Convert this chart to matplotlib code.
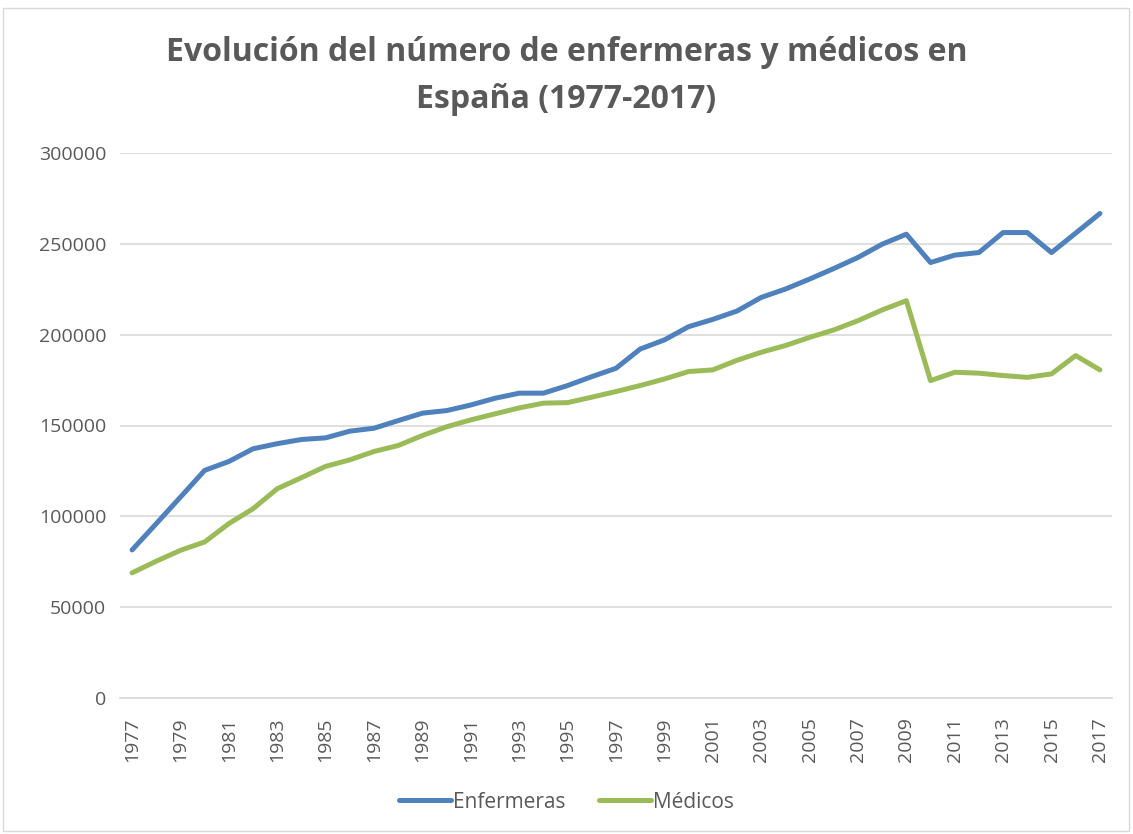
import numpy as np
import matplotlib.pyplot as plt
from matplotlib.patches import Rectangle

# Datos
anios = list(range(1977, 2018))
enfermeras = [81500, 96000, 110600, 125300, 130200, 137200, 140000, 142300, 143200, 146900,
              148500, 152700, 156800, 158200, 161300, 165000, 167800, 167800, 172000, 176900,
              181500, 192100, 197100, 204400, 208400, 213000, 220500, 225100, 230600, 236400,
              242500, 249800, 255300, 239700, 243800, 245200, 256200, 256200, 245200, 255900,
              266700]
medicos = [68900, 75300, 81300, 85900, 96000, 104200, 115200, 121300, 127500, 131100,
           135700, 139000, 144500, 149300, 153100, 156400, 159700, 162300, 162600, 165600,
           168700, 172000, 175600, 179700, 180600, 185900, 190300, 194000, 198500, 202600,
           207700, 213600, 218700, 174700, 179300, 178800, 177500, 176500, 178400, 188500,
           180600]
yticks = [0, 50000, 100000, 150000, 200000, 250000, 300000]

plt.rcParams['font.family'] = ['Open Sans', 'DejaVu Sans']
gris = '#595959'

fig = plt.figure(figsize=(11.33, 8.34), dpi=100)
ax = fig.add_axes([120 / 1133, 1 - 698 / 834, 992 / 1133, 545 / 834])

x = np.arange(len(anios))
ax.plot(x, enfermeras, color='#4f81bd', linewidth=3.6, solid_capstyle='round',
        solid_joinstyle='round', label='Enfermeras')
ax.plot(x, medicos, color='#9bbb59', linewidth=3.6, solid_capstyle='round',
        solid_joinstyle='round', label='Médicos')

ax.set_xlim(-0.5, len(anios) - 0.5)
ax.set_ylim(0, 300000)
ax.set_yticks(yticks)
ax.set_yticklabels([str(v) for v in yticks], fontsize=14, color=gris)
ax.set_xticks(x[::2])
ax.set_xticklabels([str(a) for a in anios[::2]], rotation=90, fontsize=14, color=gris)
ax.tick_params(axis='y', length=0, pad=10)
ax.tick_params(axis='x', length=0, pad=14)
ax.grid(axis='y', color='#d9d9d9', linewidth=1.2)
ax.set_axisbelow(True)
for s in ['top', 'right', 'left']:
    ax.spines[s].set_visible(False)
ax.spines['bottom'].set_color('#d9d9d9')
ax.spines['bottom'].set_linewidth(1.2)

fig.text(0.5, 1 - 76 / 834, 'Evolución del número de enfermeras y médicos en\nEspaña (1977-2017)',
         ha='center', va='center', fontsize=23, fontweight='bold', color=gris, linespacing=1.55)

leg = fig.legend(loc='center', bbox_to_anchor=(0.5, 1 - 802 / 834), ncol=2, frameon=False,
                 fontsize=15, handlelength=2.5, handletextpad=0.1, columnspacing=1.6)
for t in leg.get_texts():
    t.set_color(gris)

fig.patches.append(Rectangle((3 / 1133, 3 / 834), 1126 / 1133, 823 / 834, transform=fig.transFigure,
                             fill=False, edgecolor='#d9d9d9', linewidth=1))

fig.savefig('out.png', dpi=100)
